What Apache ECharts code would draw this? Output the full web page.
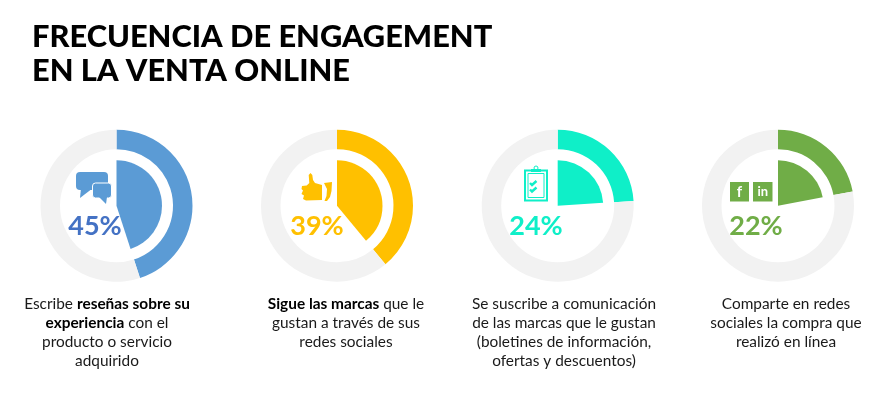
<!DOCTYPE html>
<html><head><meta charset="utf-8">
<style>html,body{margin:0;padding:0;background:#fff}#c{width:890px;height:394px}</style>
<script src="https://cdn.jsdelivr.net/npm/echarts@6/dist/echarts.min.js"></script>
</head><body><div id="c"></div>
<script>
const titleLines = ['FRECUENCIA DE ENGAGEMENT', 'EN LA VENTA ONLINE'];
const values = [45, 39, 24, 22];
const ringColors = ['#5B9BD5', '#FFC000', '#0FEFC8', '#70AD47'];
const percentColors = ['#4472C4', '#FFC000', '#0FEFC8', '#70AD47'];
const captions = [
  ['Escribe {b|reseñas sobre su}', '{b|experiencia} con el', 'producto o servicio', 'adquirido'],
  ['{b|Sigue las marcas} que le', 'gustan a través de sus', 'redes sociales'],
  ['Se suscribe a comunicación', 'de las marcas que le gustan', '(boletines de información,', 'ofertas y descuentos)'],
  ['Comparte en redes', 'sociales la compra que', 'realizó en línea']
];
const centersX = [116.5, 337, 557.7, 778];
const centerY = 205.7;
const captionX = [107, 346, 564, 786];
const percentX = [95, 317, 536, 756];

const series = [], titles = [];
titles.push({text: titleLines.join('\n'), left: 32, top: 20, padding: 0,
  textStyle: {fontFamily: 'Lato', fontWeight: 900, fontSize: 30.8, lineHeight: 34, color: '#000'}});
values.forEach((v, i) => {
  series.push({type: 'pie', silent: true, center: [centersX[i], centerY], radius: [56.5, 76],
    startAngle: 90, clockwise: true, label: {show: false}, labelLine: {show: false},
    animation: false,
    data: [{value: v, itemStyle: {color: ringColors[i]}}, {value: 100 - v, itemStyle: {color: '#F2F2F2'}}]});
  series.push({type: 'pie', silent: true, center: [centersX[i], centerY], radius: [0, 45.5],
    startAngle: 90, clockwise: true, label: {show: false}, labelLine: {show: false},
    animation: false,
    data: [{value: v, itemStyle: {color: ringColors[i]}}, {value: 100 - v, itemStyle: {color: 'rgba(0,0,0,0)'}}]});
  titles.push({text: v + '%', left: percentX[i], top: 226, padding: 0, textAlign: 'center', textVerticalAlign: 'middle',
    textStyle: {fontFamily: 'Lato', fontWeight: 700, fontSize: 27, color: percentColors[i]}});
  titles.push({text: captions[i].join('\n'), left: captionX[i], top: 295, padding: 0, textAlign: 'center',
    textStyle: {fontFamily: 'Lato', fontWeight: 400, fontSize: 15.4, lineHeight: 19, color: '#1a1a1a',
      rich: {b: {fontFamily: 'Lato', fontWeight: 700, fontSize: 15.4, lineHeight: 19, color: '#000'}}}});
});

const blue = ringColors[0], amber = ringColors[1], teal = ringColors[2], green = ringColors[3];
const icons = [
  // speech bubbles
  {type: 'rect', shape: {x: 76, y: 172, width: 32, height: 18, r: 4}, style: {fill: blue}},
  {type: 'polygon', shape: {points: [[81, 188], [93, 188], [80, 198]]}, style: {fill: blue}},
  {type: 'rect', shape: {x: 92.5, y: 183, width: 19, height: 15, r: 3}, style: {fill: blue, stroke: '#fff', lineWidth: 1}},
  {type: 'polygon', shape: {points: [[99, 197], [107, 197], [106, 204]]}, style: {fill: blue}},
  // thumb
  {type: 'polygon', shape: {points: [[308.7, 175], [310.5, 173], [312.3, 175], [313, 180], [315, 183], [322, 185], [322, 200], [306, 200.5], [303, 199], [304, 195.5], [301.5, 194], [303, 190.5], [301.5, 189], [302, 186], [306.7, 185.5], [309.3, 183]]}, style: {fill: amber}},
  {type: 'polygon', shape: {points: [[324, 183], [332, 182], [331.5, 191], [330, 197], [327, 201], [324.5, 201], [326.5, 196], [327, 189]]}, style: {fill: amber}},
  // clipboard
  {type: 'rect', shape: {x: 525, y: 170.5, width: 22, height: 30}, style: {fill: 'none', stroke: teal, lineWidth: 2}},
  {type: 'rect', shape: {x: 528, y: 173.5, width: 16, height: 24}, style: {fill: 'none', stroke: teal, lineWidth: 1}},
  {type: 'rect', shape: {x: 531, y: 169, width: 10, height: 3}, style: {fill: teal}},
  {type: 'circle', shape: {cx: 536, cy: 168, r: 2}, style: {fill: 'none', stroke: teal, lineWidth: 1}},
  {type: 'polyline', shape: {points: [[530, 183], [532, 185], [536.5, 181]]}, style: {fill: 'none', stroke: teal, lineWidth: 2.4}},
  {type: 'polyline', shape: {points: [[530, 189.5], [532, 191.5], [536.5, 187.5]]}, style: {fill: 'none', stroke: teal, lineWidth: 2.4}},
  // social squares
  {type: 'rect', shape: {x: 730, y: 182, width: 19, height: 19.5}, style: {fill: green}},
  {type: 'rect', shape: {x: 753, y: 182, width: 19.5, height: 19.5}, style: {fill: green}},
  {type: 'text', style: {x: 739.5, y: 192, text: 'f', fill: '#fff', font: '700 15px Lato', align: 'center', verticalAlign: 'middle'}},
  {type: 'text', style: {x: 762.7, y: 192, text: 'in', fill: '#fff', font: '700 13px Lato', align: 'center', verticalAlign: 'middle'}}
];

const chart = echarts.init(document.getElementById('c'), null, {renderer: 'canvas'});
chart.setOption({backgroundColor: '#fff', animation: false, title: titles, series: series,
  graphic: {elements: icons.map(o => Object.assign({silent: true}, o))}});
</script></body></html>
